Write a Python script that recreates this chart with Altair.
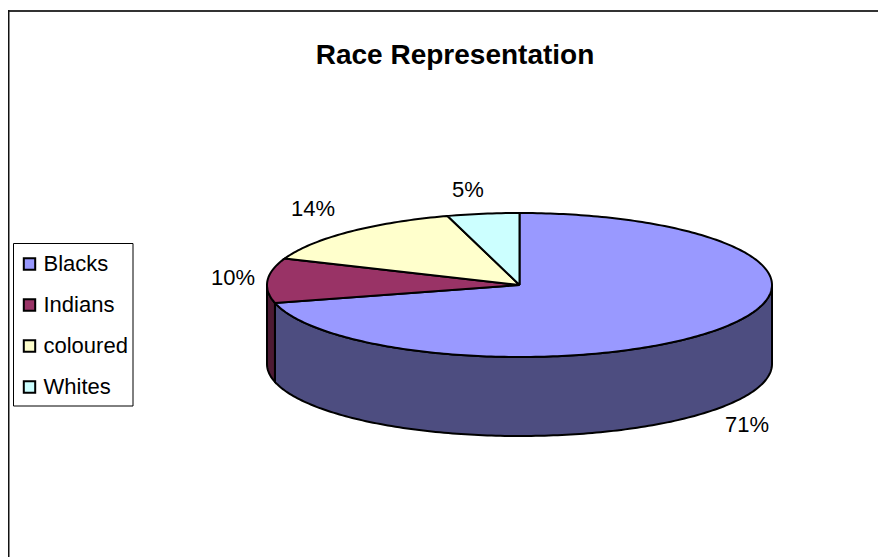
import math
import altair as alt
import pandas as pd

# Data
categories = ["Blacks", "Indians", "coloured", "Whites"]
shares = [71.0, 10.0, 14.4, 4.6]
percent_labels = ["71%", "10%", "14%", "5%"]

top_colors = ["#9999ff", "#993366", "#ffffcc", "#ccffff"]
side_colors = ["#4d4d80", "#4d1a33", "#808066", "#668080"]

# Layout (page pixels minus the 8px body margin)
W, H = 870, 549
CX, CY, RX, RY, DEPTH = 511.5, 277, 252.5, 72, 79
label_x = [739, 225, 305, 460]
label_y = [417, 270, 201, 182]


def point(angle_deg, drop=0.0):
    a = math.radians(angle_deg)
    return CX + RX * math.sin(a), CY - RY * math.cos(a) + drop


top_rows, side_rows = [], []
start = 0.0
for name, share in zip(categories, shares):
    end = start + share * 3.6
    steps = max(2, int(end - start))
    arc = [start + (end - start) * i / steps for i in range(steps + 1)]
    verts = [(CX, CY)] + [point(a) for a in arc] + [(CX, CY)]
    for i, (x, y) in enumerate(verts):
        top_rows.append({"race": name, "x": x, "y": y, "i": i})
    # visible front wall lies between 90 and 270 degrees
    lo, hi = max(start, 90.0), min(end, 270.0)
    if hi > lo:
        n = max(2, int(hi - lo))
        fr = [lo + (hi - lo) * i / n for i in range(n + 1)]
        wall = [point(a) for a in fr] + [point(a, DEPTH) for a in reversed(fr)]
        wall.append(wall[0])
        for i, (x, y) in enumerate(wall):
            side_rows.append({"race": name, "x": x, "y": y, "i": i})
    start = end

top_df = pd.DataFrame(top_rows)
side_df = pd.DataFrame(side_rows)
label_df = pd.DataFrame({"t": percent_labels, "x": label_x, "y": label_y})

xs = alt.Scale(domain=[0, W], range=[0, W], nice=False, zero=False)
ys = alt.Scale(domain=[0, H], range=[0, H], nice=False, zero=False)
X = alt.X("x:Q", scale=xs, axis=None)
Y = alt.Y("y:Q", scale=ys, axis=None)

one = pd.DataFrame({"a": [0]})
frame_top = alt.Chart(one).mark_rule(color="#333333", strokeWidth=2).encode(
    x=alt.value(0), x2=alt.value(W), y=alt.value(3)
)
frame_left = alt.Chart(one).mark_rule(color="#111111", strokeWidth=2).encode(
    x=alt.value(0.5), y=alt.value(2), y2=alt.value(H)
)
legend_box = alt.Chart(one).mark_rect(fill="white", stroke="black", strokeWidth=1).encode(
    x=alt.value(5.5), x2=alt.value(125), y=alt.value(235.5), y2=alt.value(398)
)

side = alt.Chart(side_df).mark_line(stroke="black", strokeWidth=2, interpolate="linear").encode(
    x=X, y=Y, order="i:Q",
    detail="race:N",
    fill=alt.Fill("race:N", scale=alt.Scale(domain=categories, range=side_colors), legend=None),
)
top = alt.Chart(top_df).mark_line(stroke="black", strokeWidth=2, interpolate="linear").encode(
    x=X, y=Y, order="i:Q",
    detail="race:N",
    fill=alt.Fill(
        "race:N",
        scale=alt.Scale(domain=categories, range=top_colors),
        legend=alt.Legend(
            title=None, orient="none", legendX=5.5, legendY=240,
            symbolType="square", symbolSize=130, symbolStrokeColor="black",
            symbolStrokeWidth=2, labelFont="Liberation Sans", labelFontSize=22,
            labelColor="black", rowPadding=19, padding=5,
            labelOffset=3, values=categories,
        ),
    ),
)
labels = alt.Chart(label_df).mark_text(
    font="Liberation Sans", fontSize=22, color="black", align="center", baseline="middle"
).encode(x=X, y=Y, text="t:N")
title = alt.Chart(pd.DataFrame({"t": ["Race Representation"], "x": [447], "y": [48]})).mark_text(
    font="Liberation Sans", fontSize=28, fontWeight="bold", color="black", align="center", baseline="middle"
).encode(x=X, y=Y, text="t:N")

chart = (
    alt.layer(frame_top, frame_left, legend_box, side, top, labels, title)
    .resolve_scale(fill="independent")
    .properties(width=W, height=H, padding=0, autosize=alt.AutoSizeParams(type="none"))
    .configure_view(stroke=None)
)
chart.save("out.html", embed_options={"renderer": "svg", "actions": False})
